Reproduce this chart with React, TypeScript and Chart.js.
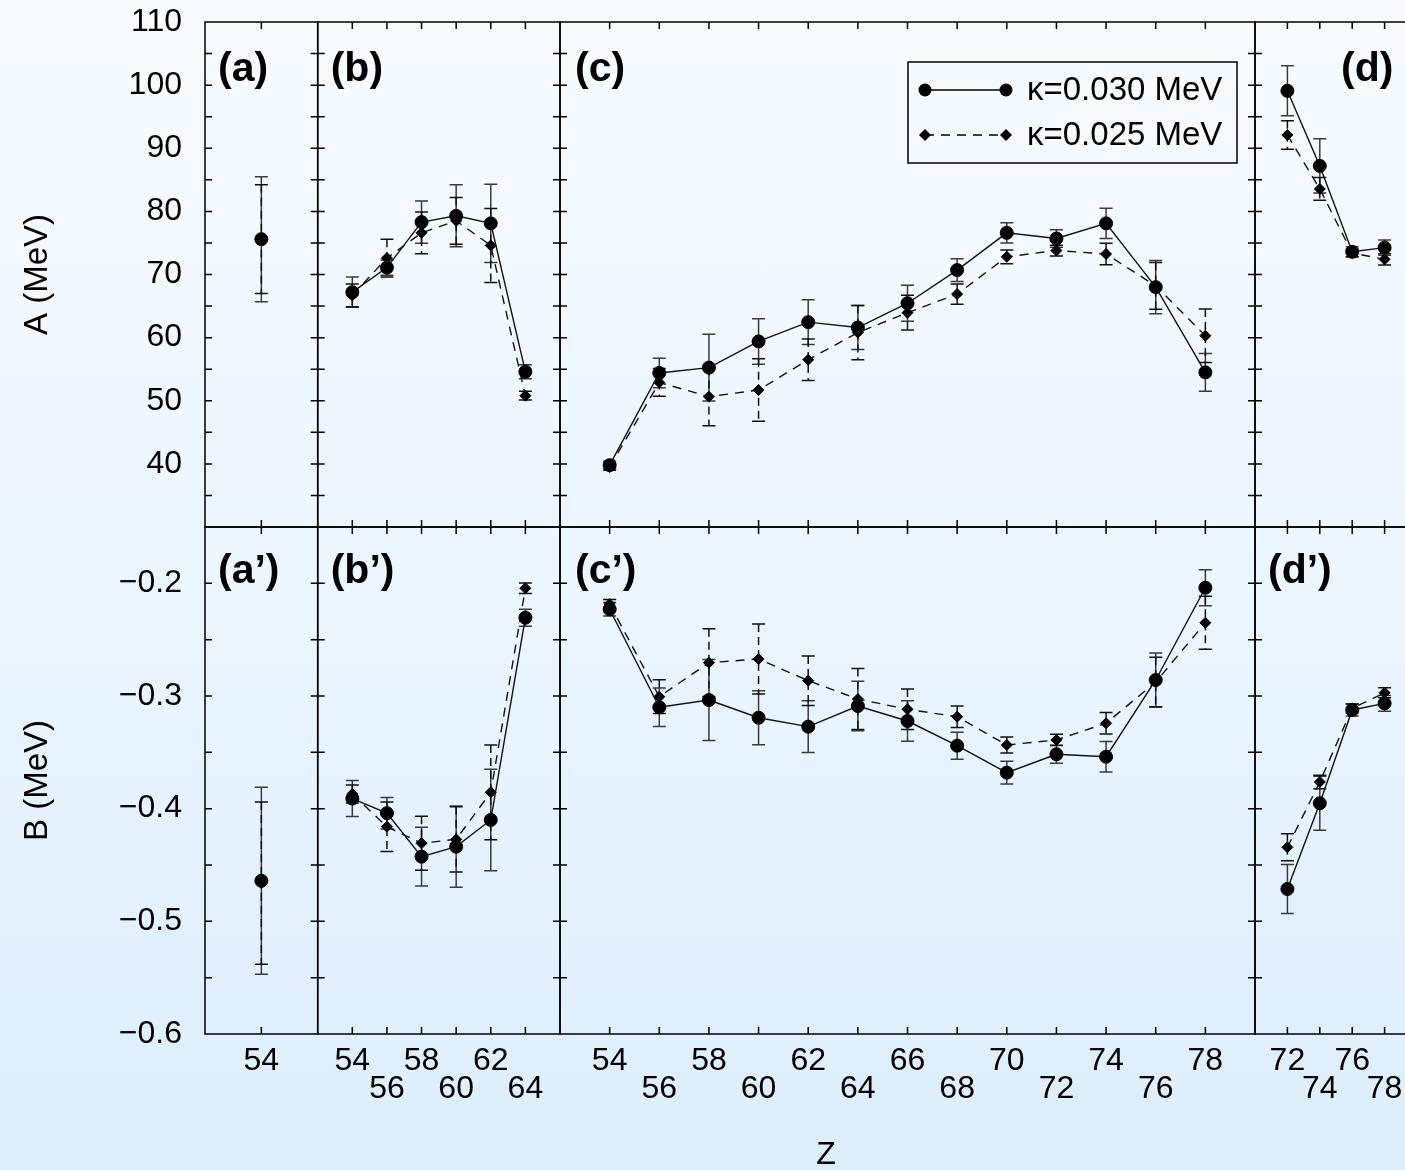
import React, { useEffect, useRef } from 'react';
import { Chart, registerables } from 'chart.js';

Chart.register(...registerables);

// ---------- data ----------
const zA = [54];
const zB = [54, 56, 58, 60, 62, 64];
const zC = [54, 56, 58, 60, 62, 64, 66, 68, 70, 72, 74, 76, 78];
const zD = [72, 74, 76, 78];

// panel (a)/(a')
const aA030 = [75.6];
const aA030Err = [9.9];
const aA025 = [75.6];
const aA025Err = [8.6];
const aB030 = [-0.464];
const aB030Err = [0.083];
const aB025 = [-0.466];
const aB025Err = [0.072];

// panel (b)/(b')
const bA030 = [67.2, 71.1, 78.3, 79.3, 78.1, 54.6];
const bA030Err = [2.4, 1.2, 3.35, 4.9, 6.2, 1.1];
const bA025 = [66.7, 72.6, 76.6, 78.5, 74.6, 50.8];
const bA025Err = [1.8, 3.0, 3.3, 3.7, 5.85, 0.7];
const bB030 = [-0.391, -0.404, -0.4426, -0.4337, -0.41, -0.2305];
const bB030Err = [0.016, 0.014, 0.026, 0.036, 0.045, 0.0075];
const bB025 = [-0.387, -0.416, -0.4307, -0.4272, -0.3855, -0.2044];
const bB025Err = [0.008, 0.022, 0.024, 0.029, 0.042, 0.0047];

// panel (c)/(c')
const cA030 = [39.8, 54.4, 55.25, 59.4, 62.45, 61.6, 65.45, 70.7, 76.6, 75.7, 78.1, 68.0, 54.5];
const cA030Err = [0.6, 2.35, 5.3, 3.6, 3.55, 3.5, 2.85, 1.8, 1.6, 1.4, 2.4, 4.2, 3.0];
const cA025 = [39.5, 52.9, 50.65, 51.7, 56.5, 60.8, 63.95, 66.9, 72.8, 73.8, 73.25, 68.2, 60.3];
const cA025Err = [0.5, 2.2, 4.6, 4.95, 3.3, 4.3, 2.75, 1.6, 1.1, 0.85, 1.7, 3.7, 4.25];
const cB030 = [-0.223, -0.31, -0.3036, -0.3193, -0.3272, -0.3089, -0.3222, -0.3441, -0.368, -0.3517, -0.3539, -0.2858, -0.2039];
const cB030Err = [0.006, 0.017, 0.036, 0.024, 0.023, 0.022, 0.018, 0.012, 0.01, 0.008, 0.0136, 0.024, 0.016];
const cB025 = [-0.2184, -0.3006, -0.2704, -0.2672, -0.2864, -0.3027, -0.3118, -0.3184, -0.3435, -0.339, -0.3242, -0.2876, -0.235];
const cB025Err = [0.004, 0.015, 0.03, 0.031, 0.022, 0.027, 0.018, 0.0095, 0.007, 0.005, 0.0096, 0.022, 0.0235];

// panel (d)/(d')
const dA030 = [99.1, 87.2, 73.6, 74.25];
const dA030Err = [3.95, 4.3, 0.8, 1.2];
const dA025 = [92.1, 83.55, 73.4, 72.4];
const dA025Err = [2.24, 1.8, 0.6, 0.9];
const dB030 = [-0.4713, -0.3952, -0.3124, -0.3065];
const dB030Err = [0.0217, 0.024, 0.0053, 0.007];
const dB025 = [-0.4343, -0.3763, -0.311, -0.2971];
const dB025Err = [0.012, 0.006, 0.004, 0.0045];

// axes
const xRangeA = [52, 56];
const xRangeB = [52, 66];
const xRangeC = [52, 80];
const xRangeD = [70, 80];
const yRangeA = [30, 110];
const yRangeB = [-0.6, -0.15];
const yTicksA = [40, 50, 60, 70, 80, 90, 100, 110];
const yTicksB = [-0.6, -0.5, -0.4, -0.3, -0.2];
const yMarksA = [35, 40, 45, 50, 55, 60, 65, 70, 75, 80, 85, 90, 95, 100, 105];
const yMarksB = [-0.55, -0.5, -0.45, -0.4, -0.35, -0.3, -0.25, -0.2];
const panelLabelsTop = ['(a)', '(b)', '(c)', '(d)'];
const panelLabelsBottom = ['(a\u2019)', '(b\u2019)', '(c\u2019)', '(d\u2019)'];
const legendLabels = ['\u03ba=0.030 MeV', '\u03ba=0.025 MeV'];

const FONT = "'Liberation Sans', Arial, Helvetica, sans-serif";

const columns = [
  { id: 'xa', range: xRangeA, ticks: zA, z: zA, weight: 112.7, A030: aA030, A030e: aA030Err, A025: aA025, A025e: aA025Err, B030: aB030, B030e: aB030Err, B025: aB025, B025e: aB025Err, line: false, labelDx: 13 },
  { id: 'xb', range: xRangeB, ticks: zB, z: zB, weight: 242.3, A030: bA030, A030e: bA030Err, A025: bA025, A025e: bA025Err, B030: bB030, B030e: bB030Err, B025: bB025, B025e: bB025Err, line: true, labelDx: 13 },
  { id: 'xc', range: xRangeC, ticks: zC, z: zC, weight: 695, A030: cA030, A030e: cA030Err, A025: cA025, A025e: cA025Err, B030: cB030, B030e: cB030Err, B025: cB025, B025e: cB025Err, line: true, labelDx: 15 },
  { id: 'xd', range: xRangeD, ticks: zD, z: zD, weight: 162, A030: dA030, A030e: dA030Err, A025: dA025, A025e: dA025Err, B030: dB030, B030e: dB030Err, B025: dB025, B025e: dB025Err, line: true, labelDx: 13 },
];

function pts(z: number[], v: number[]) {
  return z.map((x, i) => ({ x, y: v[i] }));
}

function drawDiamond(ctx: CanvasRenderingContext2D, x: number, y: number, r: number) {
  ctx.beginPath();
  ctx.moveTo(x, y - r);
  ctx.lineTo(x + r, y);
  ctx.lineTo(x, y + r);
  ctx.lineTo(x - r, y);
  ctx.closePath();
  ctx.fill();
}

const errorBarPlugin = {
  id: 'errorBars',
  beforeDatasetsDraw(chart: any) {
    const ctx: CanvasRenderingContext2D = chart.ctx;
    ctx.save();
    chart.data.datasets.forEach((ds: any, i: number) => {
      const meta = chart.getDatasetMeta(i);
      if (!meta.visible || !ds.errors) return;
      const xs = meta.xScale;
      const ys = meta.yScale;
      ds.data.forEach((p: any, j: number) => {
        const e = ds.errors[j];
        const x = xs.getPixelForValue(p.x);
        const y1 = ys.getPixelForValue(p.y + e);
        const y2 = ys.getPixelForValue(p.y - e);
        ctx.lineWidth = 1.5;
        ctx.strokeStyle = ds.errColor;
        ctx.setLineDash(ds.errDash);
        ctx.beginPath();
        ctx.moveTo(x, y1);
        ctx.lineTo(x, y2);
        ctx.stroke();
        ctx.setLineDash([]);
        ctx.beginPath();
        ctx.moveTo(x - 6.5, y1);
        ctx.lineTo(x + 6.5, y1);
        ctx.moveTo(x - 6.5, y2);
        ctx.lineTo(x + 6.5, y2);
        ctx.stroke();
      });
    });
    ctx.restore();
  },
};

const framePlugin = {
  id: 'frame',
  afterDraw(chart: any) {
    const ctx: CanvasRenderingContext2D = chart.ctx;
    const TL = 7;
    const rows = [
      { id: 'yA', marks: yMarksA, labels: panelLabelsTop, dy: 48 },
      { id: 'yB', marks: yMarksB, labels: panelLabelsBottom, dy: 45 },
    ];
    ctx.save();
    ctx.strokeStyle = '#000';
    ctx.lineWidth = 1.5;
    rows.forEach((row) => {
      const ys = chart.scales[row.id];
      columns.forEach((col, ci) => {
        const xs = chart.scales[col.id];
        const L = xs.left, R = xs.right, T = ys.top, B = ys.bottom;
        ctx.strokeRect(L, T, R - L, B - T);
        ctx.beginPath();
        row.marks.forEach((m) => {
          const y = ys.getPixelForValue(m);
          ctx.moveTo(L, y); ctx.lineTo(L + TL, y);
          ctx.moveTo(R, y); ctx.lineTo(R - TL, y);
        });
        col.ticks.forEach((m) => {
          const x = xs.getPixelForValue(m);
          ctx.moveTo(x, B); ctx.lineTo(x, B - TL);
          ctx.moveTo(x, T); ctx.lineTo(x, T + TL);
        });
        ctx.stroke();
        // panel label
        ctx.fillStyle = '#000';
        ctx.font = `bold 41px ${FONT}`;
        ctx.textBaseline = 'middle';
        ctx.textAlign = 'left';
        let lx = L + col.labelDx;
        if (ci === 3 && row.id === 'yA') lx = L + 86;
        ctx.fillText(row.labels[ci], lx, T + row.dy);
      });
    });

    // legend
    const bx = 908, by = 62, bw = 329, bh = 101;
    ctx.lineWidth = 1.5;
    ctx.strokeStyle = '#000';
    ctx.strokeRect(bx, by, bw, bh);
    const sx1 = 925, sx2 = 1006;
    const ly1 = 90, ly2 = 135;
    ctx.lineWidth = 1.3;
    ctx.beginPath();
    ctx.moveTo(sx1, ly1); ctx.lineTo(sx2, ly1);
    ctx.stroke();
    ctx.setLineDash([9, 7]);
    ctx.beginPath();
    ctx.moveTo(sx1, ly2); ctx.lineTo(sx2, ly2);
    ctx.stroke();
    ctx.setLineDash([]);
    ctx.fillStyle = '#000';
    [sx1, sx2].forEach((x) => {
      ctx.beginPath();
      ctx.arc(x, ly1, 6.5, 0, Math.PI * 2);
      ctx.fill();
      drawDiamond(ctx, x, ly2, 6);
    });
    ctx.font = `33px ${FONT}`;
    ctx.textAlign = 'left';
    ctx.textBaseline = 'middle';
    ctx.fillText(legendLabels[0], 1027, ly1 + 1);
    ctx.fillText(legendLabels[1], 1027, ly2 + 1);

    // x title
    ctx.font = `32px ${FONT}`;
    ctx.textAlign = 'center';
    ctx.fillText('Z', 826, 1155);
    ctx.restore();
  },
};

function xScale(col: any) {
  return {
    type: 'linear',
    position: 'bottom',
    stack: 'x',
    stackWeight: col.weight,
    min: col.range[0],
    max: col.range[1],
    afterBuildTicks: (s: any) => {
      s.ticks = col.ticks.map((v: number) => ({ value: v }));
    },
    afterFit: (s: any) => {
      s.height = 136;
      s.paddingLeft = 0;
      s.paddingRight = 0;
      s.paddingTop = 0;
      s.paddingBottom = 0;
    },
    grid: { display: false, drawTicks: true, tickLength: 13 },
    border: { display: false },
    ticks: {
      autoSkip: false,
      maxRotation: 0,
      minRotation: 0,
      padding: 0,
      color: '#000',
      font: { family: FONT, size: 32, lineHeight: 0.875 },
      callback: (v: number, i: number) => (i % 2 === 0 ? [String(v), ''] : ['', String(v)]),
    },
  };
}

function yScale(range: number[], ticks: number[], weight: number, title: string, fmt: (v: number) => string) {
  return {
    type: 'linear',
    position: 'left',
    stack: 'y',
    stackWeight: weight,
    min: range[0],
    max: range[1],
    afterBuildTicks: (s: any) => {
      s.ticks = ticks.map((v) => ({ value: v }));
    },
    afterFit: (s: any) => {
      s.width = 205;
      s.paddingLeft = 0;
      s.paddingRight = 0;
      s.paddingTop = 0;
      s.paddingBottom = 0;
    },
    grid: { display: false, drawTicks: true, tickLength: 23 },
    border: { display: false },
    title: {
      display: true,
      text: title,
      color: '#000',
      font: { family: FONT, size: 33, lineHeight: 1.2 },
      padding: { top: 18, bottom: 0 },
    },
    ticks: {
      autoSkip: false,
      padding: 0,
      color: '#000',
      font: { family: FONT, size: 32, lineHeight: 1.2 },
      callback: (v: number) => fmt(v),
    },
  };
}

export default function App() {
  const ref = useRef<HTMLCanvasElement | null>(null);

  useEffect(() => {
    document.body.style.margin = '0';
    if (!ref.current) return;
    const datasets: any[] = [];
    const mk = (col: any, yId: string, vals: number[], errs: number[], kind: 'c' | 'd') => ({
      label: `${col.id}-${yId}-${kind}`,
      xAxisID: col.id,
      yAxisID: yId,
      data: pts(col.z, vals),
      errors: errs,
      errColor: kind === 'c' ? '#3a3a3a' : '#111',
      errDash: kind === 'c' ? [] : [8, 5],
      showLine: col.line,
      borderColor: '#111',
      borderWidth: 1.4,
      borderDash: kind === 'c' ? [] : [9, 7],
      backgroundColor: '#000',
      pointBackgroundColor: '#000',
      pointBorderColor: '#000',
      pointBorderWidth: 1,
      pointStyle: kind === 'c' ? 'circle' : 'rectRot',
      pointRadius: kind === 'c' ? 6.5 : 5.5,
      tension: 0,
      fill: false,
    });
    // circles first so they are drawn on top
    columns.forEach((col) => {
      datasets.push(mk(col, 'yA', col.A030, col.A030e, 'c'));
      datasets.push(mk(col, 'yB', col.B030, col.B030e, 'c'));
    });
    columns.forEach((col) => {
      datasets.push(mk(col, 'yA', col.A025, col.A025e, 'd'));
      datasets.push(mk(col, 'yB', col.B025, col.B025e, 'd'));
    });

    // left-positioned stacked boxes are placed in reverse order: define the lower one first
    const scales: any = {
      yB: yScale(yRangeB, yTicksB, 507, 'B (MeV)', (v) => '\u2212' + Math.abs(v).toFixed(1)),
      yA: yScale(yRangeA, yTicksA, 505, 'A (MeV)', (v) => String(v)),
    };
    columns.forEach((col) => {
      scales[col.id] = xScale(col);
    });

    const chart = new Chart(ref.current, {
      type: 'scatter',
      data: { datasets },
      options: {
        animation: false,
        responsive: false,
        devicePixelRatio: 1,
        layout: { autoPadding: false, padding: { left: 0, top: 22, right: 3, bottom: 0 } },
        plugins: {
          legend: { display: false },
          tooltip: { enabled: false },
        },
        scales,
      } as any,
      plugins: [errorBarPlugin, framePlugin],
    } as any);
    return () => chart.destroy();
  }, []);

  return (
    <div
      style={{
        position: 'fixed',
        left: 0,
        top: 0,
        width: 1405,
        height: 1170,
        overflow: 'hidden',
        background: 'linear-gradient(to bottom, #f7fbff 0%, #eaf5fe 55%, #dcedfb 100%)',
      }}
    >
      <canvas ref={ref} width={1420} height={1170} style={{ display: 'block' }} />
    </div>
  );
}
